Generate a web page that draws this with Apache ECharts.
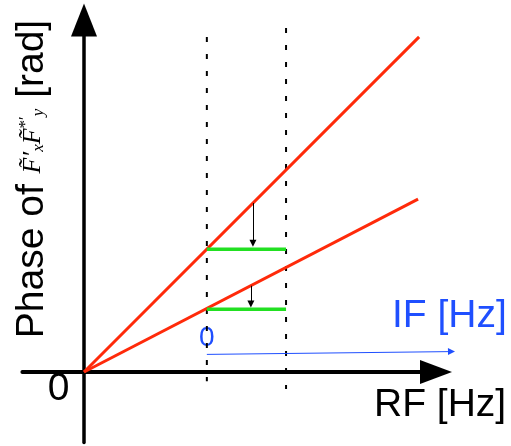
<!DOCTYPE html>
<html>
<head>
<meta charset="utf-8">
<style>
  html, body { margin: 0; padding: 0; background: #fff; }
  #chart { width: 511px; height: 446px; }
</style>
<script src="https://cdn.jsdelivr.net/npm/echarts@6/dist/echarts.min.js"></script>
</head>
<body>
<div id="chart"></div>
<script>
// axis ranges (RF on x, phase on y, arbitrary units)
const xRange = [-1.75, 10];
const yRange = [-2, 10];

// the two phase lines through the origin
const phaseSteep = [[0, 0], [9.52, 9.52]];
const phaseShallow = [[0, 0], [9.49, 4.91]];

// band edges (dashed verticals)
const dashedLeft = [[3.49, 9.52], [3.49, -0.26]];
const dashedRight = [[5.74, 9.77], [5.74, -0.48]];

// phase after down-conversion (green)
const ifUpper = [[3.49, 3.49], [5.74, 3.49]];
const ifLower = [[3.49, 1.78], [5.74, 1.78]];

// small shift arrows and the IF axis
const shiftArrows = [
  [[4.80, 4.80], [4.80, 3.66]],
  [[4.74, 2.45], [4.74, 1.93]]
];
const ifAxis = [[3.49, 0.50], [10.44, 0.58]];

const red = '#ff2a0a';
const green = '#22e022';
const blue = '#1f4fff';

const chart = echarts.init(document.getElementById('chart'));

function seg(data, color, width, type, z) {
  return {
    type: 'line',
    data: data,
    showSymbol: false,
    symbol: 'none',
    silent: true,
    z: z || 3,
    lineStyle: { color: color, width: width, type: type || 'solid' }
  };
}

chart.setOption({
  animation: false,
  backgroundColor: '#fff',
  grid: { left: 22.4, right: 75, top: 20, bottom: 3.6 },
  xAxis: {
    type: 'value',
    min: xRange[0],
    max: xRange[1],
    splitLine: { show: false },
    axisTick: { show: false },
    axisLabel: { show: false },
    axisLine: {
      onZero: true,
      symbol: ['none', 'triangle'],
      symbolSize: [24, 32],
      lineStyle: { color: '#000', width: 4 }
    }
  },
  yAxis: {
    type: 'value',
    min: yRange[0],
    max: yRange[1],
    splitLine: { show: false },
    axisTick: { show: false },
    axisLabel: { show: false },
    axisLine: {
      onZero: true,
      symbol: ['none', 'triangle'],
      symbolSize: [26, 33],
      lineStyle: { color: '#000', width: 3.5 }
    }
  },
  series: [
    seg(dashedLeft, '#000', 2, [5, 12], 1),
    seg(dashedRight, '#000', 2, [5, 12], 1),
    seg(phaseSteep, red, 3),
    seg(phaseShallow, red, 3),
    seg(ifUpper, green, 3.5),
    seg(ifLower, green, 3.5),
    {
      type: 'lines',
      coordinateSystem: 'cartesian2d',
      silent: true,
      clip: false,
      z: 4,
      symbol: ['none', 'triangle'],
      symbolSize: 7,
      lineStyle: { color: '#000', width: 1, opacity: 1 },
      data: shiftArrows.map(c => ({ coords: c }))
    },
    {
      type: 'lines',
      coordinateSystem: 'cartesian2d',
      silent: true,
      clip: false,
      z: 4,
      symbol: ['none', 'triangle'],
      symbolSize: 7,
      lineStyle: { color: blue, width: 1, opacity: 1 },
      data: [{ coords: ifAxis }]
    }
  ],
  graphic: [
    {
      type: 'text', x: 58.5, y: 389,
      style: { text: '0', fontSize: 39, fontFamily: 'Liberation Sans', fill: '#000', align: 'center', verticalAlign: 'middle' }
    },
    {
      type: 'text', x: 374, y: 405,
      style: { text: 'RF [Hz]', fontSize: 39, fontFamily: 'Liberation Sans', fill: '#000', align: 'left', verticalAlign: 'middle' }
    },
    {
      type: 'text', x: 392, y: 316,
      style: { text: 'IF [Hz]', fontSize: 39, fontFamily: 'Liberation Sans', fill: blue, align: 'left', verticalAlign: 'middle' }
    },
    {
      type: 'text', x: 199, y: 338,
      style: { text: '0', fontSize: 28, fontFamily: 'Liberation Sans', fill: blue, align: 'left', verticalAlign: 'middle' }
    },
    {
      type: 'text', x: 32, y: 179, rotation: Math.PI / 2,
      style: {
        text: '{a|Phase of }{m|F\u0303\u2032}{s|x}{m|F\u0303}{p|*\u2032}{s|y}{a| [rad]}',
        align: 'center',
        verticalAlign: 'middle',
        fill: '#000',
        rich: {
          a: { fontSize: 39, fontFamily: 'Liberation Sans', lineHeight: 42, verticalAlign: 'middle' },
          m: { fontSize: 26, fontFamily: 'Liberation Serif', fontStyle: 'italic', lineHeight: 26, padding: [2, 0, 0, 0], verticalAlign: 'middle' },
          s: { fontSize: 17, fontFamily: 'Liberation Serif', fontStyle: 'italic', lineHeight: 17, padding: [14, 0, 0, 0], verticalAlign: 'middle' },
          p: { fontSize: 17, fontFamily: 'Liberation Serif', lineHeight: 17, padding: [0, 0, 12, 0], verticalAlign: 'middle' }
        }
      }
    }
  ]
});
</script>
</body>
</html>
